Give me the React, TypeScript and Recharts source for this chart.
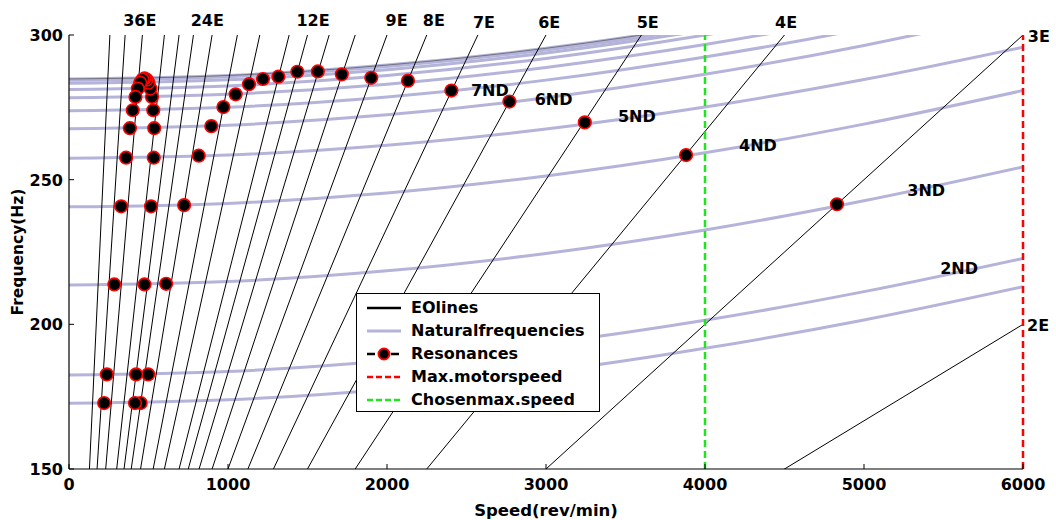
import React from 'react';
import { ComposedChart, Line, Scatter, XAxis, YAxis, ReferenceLine, ReferenceDot } from 'recharts';

// ---- data ----
const rpmGrid = [0, 1000, 2000, 3000, 4000, 5000, 6000];
const nd1 = [172.7, 173.9, 177.6, 183.6, 191.7, 201.5, 213.0];
const nd2 = [182.5, 183.7, 187.4, 193.4, 201.4, 211.3, 222.8];
const nd3 = [213.6, 214.8, 218.5, 224.5, 232.6, 242.7, 254.4];
const nd4 = [240.6, 241.8, 245.4, 251.3, 259.3, 269.2, 280.8];
const nd5 = [257.4, 258.5, 261.9, 267.5, 275.1, 284.6, 295.8];
const nd6 = [267.6, 268.8, 272.4, 278.3, 286.4, 296.4, 308.2];
const nd7 = [273.8, 275.0, 278.6, 284.4, 292.4, 302.4, 316.9];
const nd8 = [278.3, 279.5, 283.0, 288.8, 296.7, 306.6, 318.3];
const nd9 = [281.2, 282.4, 286.0, 291.9, 300.0, 310.0, 322.0];
const nd10 = [283.3, 284.5, 288.0, 293.8, 301.7, 311.6, 324.0];
const nd11 = [284.4, 285.6, 289.1, 294.8, 302.6, 312.5, 325.0];
const nd12 = [284.8, 286.0, 289.6, 295.4, 303.5, 313.8, 327.0];
const naturalFreqs = [nd1, nd2, nd3, nd4, nd5, nd6, nd7, nd8, nd9, nd10, nd11, nd12];

const engineOrders = [2, 3, 4, 5, 6, 7, 8, 9, 10, 11, 12, 13, 15, 17, 20, 23, 26, 30, 39, 51, 70];

const resRpm = [4830, 3881, 3244, 2770, 2405, 2132, 1901, 1716, 1565, 1436, 1317, 1220, 1132, 1048, 971, 895, 816, 724, 611, 498, 451,
  415, 422, 475, 516, 533, 536, 530, 522, 512, 500, 488, 475, 462, 448, 433, 418, 401, 383, 359, 328, 285, 238, 221];
const resHz = [241.5, 258.5, 269.8, 277.0, 280.8, 284.2, 285.2, 286.4, 287.4, 287.3, 285.6, 284.8, 283.0, 279.5, 275.1, 268.5, 258.3, 241.2, 214.0, 182.7, 172.8,
  172.8, 182.7, 213.8, 240.8, 257.6, 267.8, 274.0, 278.6, 281.5, 283.5, 284.6, 285.0, 284.6, 283.5, 281.5, 278.6, 274.0, 267.8, 257.6, 240.8, 213.8, 182.7, 172.8];

const eoLabelText = ['36E', '24E', '12E', '9E', '8E', '7E', '6E', '5E', '4E', '3E', '2E'];
const eoLabelRpm = [445, 870, 1535, 2060, 2295, 2610, 3020, 3640, 4510, 6100, 6095];
const eoLabelHz = [305.2, 305.2, 305.2, 305.2, 305.2, 304.6, 304.6, 304.6, 304.6, 299.8, 199.8];

const ndLabelText = ['7ND', '6ND', '5ND', '4ND', '3ND', '2ND'];
const ndLabelRpm = [2647, 3048, 3571, 4333, 5391, 5598];
const ndLabelHz = [281.0, 277.9, 272.0, 262.0, 246.4, 219.5];

const xTicks = [0, 1000, 2000, 3000, 4000, 5000, 6000];
const yTicks = [150, 200, 250, 300];
const maxMotorSpeed = 6000;
const chosenMaxSpeed = 4000;

// ---- derived tables ----
const curveData = naturalFreqs.map((arr) => arr.map((y, i) => ({ x: rpmGrid[i], y })));
const eoData = engineOrders.map((eo) => [
  { x: 0, y: 0 },
  { x: 6000, y: (eo * 6000) / 60 },
]);
const resData = resRpm.map((x, i) => ({ x, y: resHz[i] }));

const FONT = '"DejaVu Sans", Verdana, sans-serif';
const CURVE = '#b4b4da';

const BottomTick = (p: any) => (
  <g>
    <line x1={p.x} y1={p.y} x2={p.x} y2={p.y - 5} stroke="#000" strokeWidth={1} />
    <text x={p.x} y={p.y + 21} textAnchor="middle" fontFamily={FONT} fontWeight="bold" fontSize={16} fill="#000">
      {p.payload.value}
    </text>
  </g>
);
const TopTick = (p: any) => (
  <line x1={p.x} y1={p.y} x2={p.x} y2={p.y + 5} stroke="#000" strokeWidth={1} />
);
const LeftTick = (p: any) => (
  <g>
    <line x1={p.x} y1={p.y} x2={p.x + 5} y2={p.y} stroke="#000" strokeWidth={1} />
    <text x={p.x - 6} y={p.y + 6} textAnchor="end" fontFamily={FONT} fontWeight="bold" fontSize={16} fill="#000">
      {p.payload.value}
    </text>
  </g>
);
const RightTick = (p: any) => (
  <line x1={p.x} y1={p.y} x2={p.x - 5} y2={p.y} stroke="#000" strokeWidth={1} />
);

const ResDot = (p: any) => (
  <circle cx={p.cx} cy={p.cy} r={6.3} fill="#000" stroke="#ff0000" strokeWidth={1.6} />
);

const txt = (value: string, anchor: 'start' | 'middle' = 'middle') => (props: any) => {
  const vb = props.viewBox || {};
  const cx = vb.cx !== undefined ? vb.cx : vb.x + (vb.width || 0) / 2;
  const cy = vb.cy !== undefined ? vb.cy : vb.y + (vb.height || 0) / 2;
  return (
    <text x={cx} y={cy + 6} textAnchor={anchor} fontFamily={FONT} fontWeight="bold" fontSize={16} fill="#000">
      {value}
    </text>
  );
};

const legendItems = [
  { label: 'EOlines', kind: 'eo' },
  { label: 'Naturalfrequencies', kind: 'nf' },
  { label: 'Resonances', kind: 'res' },
  { label: 'Max.motorspeed', kind: 'max' },
  { label: 'Chosenmax.speed', kind: 'chosen' },
];

const LegendSample = ({ kind }: { kind: string }) => (
  <svg width={38} height={20} style={{ display: 'block' }}>
    {kind === 'eo' && <line x1={2} y1={10} x2={36} y2={10} stroke="#000" strokeWidth={2.5} />}
    {kind === 'nf' && <line x1={2} y1={10} x2={36} y2={10} stroke={CURVE} strokeWidth={3} />}
    {kind === 'res' && (
      <g>
        <line x1={2} y1={10} x2={36} y2={10} stroke="#000" strokeWidth={2.5} strokeDasharray="8 4" />
        <circle cx={19} cy={10} r={5.5} fill="#000" stroke="#ff0000" strokeWidth={2} />
      </g>
    )}
    {kind === 'max' && <line x1={2} y1={10} x2={36} y2={10} stroke="#ff0000" strokeWidth={2.5} strokeDasharray="6 3" />}
    {kind === 'chosen' && <line x1={2} y1={10} x2={36} y2={10} stroke="#1ee61e" strokeWidth={2.5} strokeDasharray="6 3" />}
  </svg>
);

export default function App() {
  return (
    <div style={{ position: 'absolute', left: 0, top: 0, width: 1056, height: 520, background: '#fff' }}>
      <ComposedChart width={1056} height={520} margin={{ top: 35, right: 33, bottom: 0, left: 0 }}>
        <XAxis
          xAxisId="b"
          dataKey="x"
          type="number"
          domain={[0, 6000]}
          ticks={xTicks}
          allowDataOverflow
          height={51}
          tickSize={0}
          tickMargin={0}
          tick={BottomTick}
          axisLine={{ stroke: '#000', strokeWidth: 1.2 }}
          label={(props: any) => {
            const vb = props.viewBox;
            return (
              <text x={vb.x + vb.width / 2} y={516} textAnchor="middle" fontFamily={FONT} fontWeight="bold" fontSize={16.5}>
                Speed(rev/min)
              </text>
            );
          }}
        />
        <XAxis
          xAxisId="t"
          orientation="top"
          dataKey="x"
          type="number"
          domain={[0, 6000]}
          ticks={xTicks}
          allowDataOverflow
          height={0}
          tickSize={0}
          tickMargin={0}
          tick={TopTick}
          axisLine={{ stroke: '#000', strokeWidth: 1.2 }}
        />
        <YAxis
          yAxisId="l"
          dataKey="y"
          type="number"
          domain={[150, 300]}
          ticks={yTicks}
          allowDataOverflow
          width={69}
          tickSize={0}
          tickMargin={0}
          tick={LeftTick}
          axisLine={{ stroke: '#000', strokeWidth: 1.2 }}
          label={(props: any) => {
            const vb = props.viewBox;
            const cy = vb.y + vb.height / 2;
            return (
              <text x={18} y={cy} transform={`rotate(-90, 18, ${cy})`} textAnchor="middle" dominantBaseline="central" fontFamily={FONT} fontWeight="bold" fontSize={15.5}>
                Frequency(Hz)
              </text>
            );
          }}
        />
        <YAxis
          yAxisId="r"
          orientation="right"
          dataKey="y"
          type="number"
          domain={[150, 300]}
          ticks={yTicks}
          allowDataOverflow
          width={0}
          tickSize={0}
          tickMargin={0}
          tick={RightTick}
          axisLine={{ stroke: '#000', strokeWidth: 1.2 }}
        />

        {curveData.map((d, i) => (
          <Line
            key={'nf' + i}
            xAxisId="b"
            yAxisId="l"
            data={d}
            dataKey="y"
            type="monotone"
            stroke={CURVE}
            strokeWidth={3}
            dot={false}
            activeDot={false}
            isAnimationActive={false}
          />
        ))}
        <Line
          key="nf12dark"
          xAxisId="b"
          yAxisId="l"
          data={curveData[11]}
          dataKey="y"
          type="monotone"
          stroke="#444"
          strokeWidth={0.6}
          dot={false}
          activeDot={false}
          isAnimationActive={false}
        />
        {eoData.map((d, i) => (
          <Line
            key={'eo' + i}
            xAxisId="b"
            yAxisId="l"
            data={d}
            dataKey="y"
            type="linear"
            stroke="#000"
            strokeWidth={1}
            dot={false}
            activeDot={false}
            isAnimationActive={false}
          />
        ))}
        <ReferenceLine xAxisId="b" yAxisId="l" x={chosenMaxSpeed} stroke="#1ee61e" strokeWidth={2.5} strokeDasharray="7 4" />
        <ReferenceLine xAxisId="b" yAxisId="l" x={maxMotorSpeed} stroke="#ff0000" strokeWidth={2.5} strokeDasharray="7 4" />
        <Scatter
          xAxisId="b"
          yAxisId="l"
          data={resData}
          dataKey="y"
          shape={ResDot}
          isAnimationActive={false}
        />
        {eoLabelText.map((t, i) => (
          <ReferenceDot
            key={'eol' + i}
            xAxisId="b"
            yAxisId="l"
            x={eoLabelRpm[i]}
            y={eoLabelHz[i]}
            r={0}
            fill="none"
            stroke="none"
            ifOverflow="visible"
            label={txt(t)}
          />
        ))}
        {ndLabelText.map((t, i) => (
          <ReferenceDot
            key={'ndl' + i}
            xAxisId="b"
            yAxisId="l"
            x={ndLabelRpm[i]}
            y={ndLabelHz[i]}
            r={0}
            fill="none"
            stroke="none"
            ifOverflow="visible"
            label={txt(t)}
          />
        ))}
      </ComposedChart>
      <div
        style={{
          position: 'absolute',
          left: 356,
          top: 293,
          width: 242,
          height: 117,
          border: '1.5px solid #000',
          background: '#fff',
          fontFamily: FONT,
          fontWeight: 'bold',
          fontSize: 16,
          boxSizing: 'content-box',
        }}
      >
        {legendItems.map((it, i) => (
          <div key={i} style={{ position: 'absolute', left: 8, top: 4 + i * 23, height: 20, display: 'flex', alignItems: 'center' }}>
            <LegendSample kind={it.kind} />
            <span style={{ marginLeft: 8, lineHeight: '20px', whiteSpace: 'nowrap' }}>{it.label}</span>
          </div>
        ))}
      </div>
    </div>
  );
}
